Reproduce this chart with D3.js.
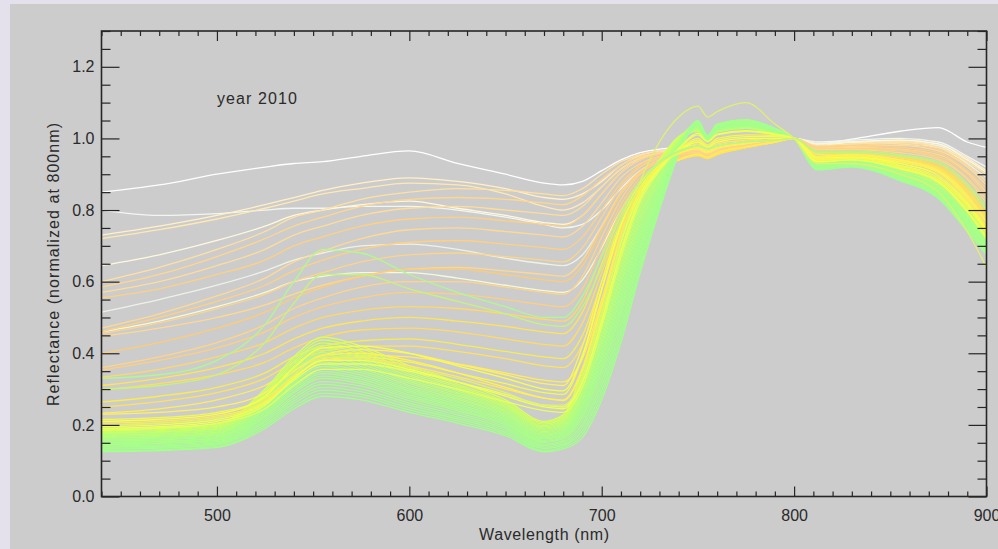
<!DOCTYPE html>
<html>
<head>
<meta charset="utf-8">
<script src="https://cdn.jsdelivr.net/npm/d3@7"></script>
<style>
  html, body { margin: 0; padding: 0; background: #e4e0ec; }
  svg { display: block; }
</style>
</head>
<body>
<svg id="chart" width="998" height="549"></svg>
<script>
// Wavelength grid (nm) shared by every spectrum
const wavelengths = [440, 470, 500, 525, 540, 555, 575, 600, 625, 650, 670, 680, 690, 700, 710, 720, 730, 740, 750, 755, 760, 775, 790, 800, 812, 830, 855, 875, 890, 900];

// Bright, weakly pigmented canopies
const paleSpectra = [
  [.85,.87,.90,.92,.93,.935,.95,.965,.93,.90,.875,.87, .88,.91,.94,.96,.97,.975, .98,.972,.98,.99,.995,1.0, .985,.998,1.02,1.03,.99,.975],
  [.80,.785,.79,.80,.805,.805,.81,.81,.80,.78,.76,.75, .76,.80,.86,.91,.935,.945, .955,.948,.958,.975,.99,1.0, .99,.995,1.0,.99,.95,.92],
  [.73,.755,.785,.815,.835,.855,.875,.89,.88,.86,.835,.83, .845,.88,.925,.952,.965,.97, .975,.968,.975,.985,.995,1.0, .985,.99,.995,.985,.945,.91],
  [.72,.745,.775,.805,.825,.845,.86,.875,.87,.845,.81,.80, .82,.865,.915,.945,.96,.97, .972,.965,.973,.985,.995,1.0, .98,.985,.99,.98,.935,.90],
  [.645,.675,.715,.755,.785,.80,.815,.825,.805,.785,.765,.76, .785,.845,.905,.94,.96,.97, .975,.967,.975,.985,.995,1.0, .98,.99,.995,.985,.94,.905],
  [.515,.55,.59,.63,.66,.68,.70,.705,.69,.665,.65,.645, .675,.755,.845,.905,.94,.955, .962,.955,.965,.98,.99,1.0, .985,.99,.99,.98,.93,.89],
  [.46,.49,.53,.57,.60,.615,.625,.625,.61,.59,.575,.57, .605,.695,.80,.88,.925,.945, .955,.948,.96,.978,.99,1.0, .985,.99,.985,.975,.925,.88]
];
const paleColors = ["#ffffff", "#f2f6f0", "#fff0c8", "#ffe8b4", "#fff8dc", "#eef2e6", "#f4f8dc"];

// Senescent / stressed canopies
const orangeSpectra = [
  [.60,.64,.69,.74,.78,.80,.83,.85,.86,.855,.845,.84, .86,.90,.935,.955,.965,.97, .975,.968,.975,.985,.995,1.0, .98,.985,.99,.975,.935,.90],
  [.585,.62,.67,.72,.755,.78,.81,.83,.835,.83,.82,.815, .84,.885,.925,.95,.96,.968, .972,.965,.973,.985,.995,1.0, .978,.98,.985,.97,.925,.88],
  [.57,.60,.645,.69,.73,.755,.785,.805,.81,.80,.79,.785, .81,.865,.915,.945,.958,.965, .97,.962,.97,.983,.994,1.0, .975,.978,.98,.965,.92,.87],
  [.555,.58,.62,.66,.70,.725,.755,.775,.78,.77,.76,.755, .785,.845,.905,.94,.955,.963, .968,.96,.97,.982,.993,1.0, .975,.98,.975,.96,.91,.86],
  [.47,.51,.56,.61,.655,.685,.72,.745,.75,.74,.73,.725, .755,.82,.89,.93,.95,.96, .965,.958,.967,.98,.992,1.0, .972,.975,.97,.955,.905,.85],
  [.46,.50,.545,.59,.63,.66,.69,.71,.715,.705,.695,.69, .725,.80,.875,.925,.948,.958, .963,.955,.965,.98,.992,1.0, .97,.972,.968,.95,.90,.84],
  [.455,.485,.525,.565,.60,.625,.655,.675,.68,.67,.66,.655, .695,.78,.865,.92,.945,.955, .962,.953,.963,.978,.991,1.0, .968,.97,.965,.945,.89,.83],
  [.447,.47,.50,.535,.565,.59,.615,.635,.64,.63,.62,.615, .66,.755,.85,.91,.94,.952, .96,.952,.962,.978,.991,1.0, .968,.968,.96,.94,.885,.82],
  [.40,.43,.47,.515,.555,.585,.615,.635,.635,.62,.605,.60, .645,.745,.845,.905,.938,.95, .958,.95,.96,.977,.99,1.0, .965,.965,.955,.935,.875,.81],
  [.36,.39,.43,.48,.525,.555,.585,.60,.60,.585,.57,.565, .615,.725,.83,.90,.935,.948, .956,.948,.958,.976,.99,1.0, .963,.962,.952,.93,.87,.80],
  [.353,.38,.415,.46,.50,.53,.555,.57,.565,.55,.535,.53, .58,.70,.815,.89,.93,.945, .955,.947,.957,.975,.99,1.0, .962,.96,.95,.928,.865,.80],
  [.333,.355,.39,.43,.47,.50,.52,.53,.525,.51,.495,.49, .545,.675,.80,.88,.925,.943, .953,.945,.956,.975,.99,1.0, .96,.958,.948,.925,.86,.79],
  [.31,.33,.36,.40,.44,.47,.49,.50,.49,.475,.46,.455, .515,.65,.785,.875,.922,.94, .952,.944,.955,.974,.99,1.0, .96,.958,.945,.92,.855,.785],
  [.297,.315,.34,.375,.415,.445,.465,.47,.46,.44,.425,.42, .485,.625,.77,.865,.918,.94, .952,.944,.955,.974,.989,1.0, .958,.955,.942,.918,.85,.78],
  [.264,.28,.305,.345,.39,.42,.435,.44,.425,.405,.39,.385, .45,.60,.755,.86,.915,.94, .953,.945,.956,.975,.99,1.0, .957,.953,.94,.915,.845,.775],
  [.25,.265,.29,.33,.375,.405,.42,.42,.405,.385,.365,.36, .425,.58,.745,.855,.912,.94, .955,.946,.958,.976,.99,1.0, .956,.952,.938,.912,.84,.77],
  [.233,.245,.27,.31,.355,.385,.395,.39,.37,.345,.325,.32, .385,.55,.725,.845,.91,.94, .957,.948,.96,.977,.99,1.0, .955,.95,.935,.908,.835,.765]
];
const orangeColors = ["#ffe0a0", "#ffd68c", "#ffdc98", "#ffd080", "#ffd994", "#ffd080", "#fcd48a", "#ffd890", "#ffcc74",
                      "#ffd486", "#ffcf7c", "#ffd868", "#ffe456", "#ffdc60", "#f8ec50", "#ffe25c", "#ffec5c"];

// Transitional canopies
const yellowSpectra = [
  [.23,.235,.25,.29,.35,.395,.41,.40,.37,.34,.315,.31, .42,.60,.77,.875,.93,.958, .97,.96,.972,.985,.995,1.0, .95,.955,.94,.91,.84,.765],
  [.215,.22,.235,.275,.335,.38,.39,.375,.345,.315,.29,.285, .39,.575,.755,.865,.925,.958, .975,.963,.976,.988,.996,1.0, .948,.952,.935,.905,.83,.755],
  [.205,.21,.225,.265,.33,.38,.385,.365,.335,.30,.275,.27, .36,.545,.735,.855,.922,.962, .985,.97,.985,.995,1.0,1.0, .945,.95,.93,.90,.825,.75],
  [.21,.215,.23,.28,.36,.415,.42,.40,.365,.33,.30,.295, .395,.58,.76,.87,.928,.965, .99,.975,.99,1.0,1.0,1.0, .945,.948,.93,.895,.82,.745],
  [.195,.20,.215,.26,.325,.37,.37,.35,.32,.285,.255,.25, .33,.51,.71,.845,.918,.965, .995,.978,.995,1.005,1.005,1.0, .94,.945,.925,.89,.815,.74],
  [.20,.205,.22,.265,.34,.395,.40,.38,.345,.305,.275,.268, .355,.535,.725,.855,.922,.968, 1.0,.982,1.0,1.01,1.008,1.0, .94,.945,.922,.885,.81,.735],
  [.185,.19,.205,.245,.31,.355,.355,.33,.30,.265,.24,.235, .305,.475,.67,.825,.91,.97, 1.01,.99,1.01,1.02,1.01,1.0, .935,.94,.918,.88,.80,.725],
  [.19,.195,.21,.255,.33,.38,.38,.355,.32,.28,.25,.245, .32,.49,.685,.835,.915,.972, 1.015,.992,1.012,1.022,1.012,1.0, .935,.94,.915,.878,.795,.72]
];
const yellowColors = ["#fff060", "#f4f850", "#ffe860", "#f8ff48", "#ecff58", "#fff24c", "#e4ff60", "#f2ff54"];

// Healthy green canopies
const greenSpectra = [
  [.190,.193,.202,.300,.390,.445,.420,.365,.320,.270,.210,.228,.355,.530,.710,.855,.940,1.005,1.025,.995,1.020,1.030,1.015,1.0,.935,.945,.915,.875,.805,.740],
  [.187,.190,.199,.295,.383,.437,.413,.359,.314,.265,.206,.223,.346,.517,.696,.844,.933,1.003,1.030,.998,1.025,1.036,1.018,1.0,.925,.935,.900,.858,.780,.715],
  [.184,.187,.196,.289,.376,.429,.405,.352,.309,.260,.202,.219,.336,.504,.682,.832,.926,1.000,1.022,.994,1.020,1.030,1.015,1.0,.938,.948,.920,.880,.810,.745],
  [.181,.184,.193,.285,.370,.422,.399,.347,.304,.256,.198,.215,.328,.494,.671,.823,.920,.998,1.040,1.002,1.032,1.045,1.022,1.0,.922,.930,.895,.850,.770,.705],
  [.178,.181,.190,.280,.364,.415,.393,.342,.299,.252,.195,.211,.321,.483,.660,.814,.915,.996,1.029,.997,1.023,1.033,1.017,1.0,.931,.941,.910,.868,.794,.729],
  [.176,.179,.188,.276,.358,.409,.387,.336,.295,.248,.191,.207,.313,.473,.648,.804,.909,.994,1.020,.992,1.018,1.028,1.012,1.0,.940,.950,.925,.885,.815,.750],
  [.173,.176,.185,.271,.352,.402,.381,.331,.290,.244,.188,.203,.306,.462,.637,.795,.904,.992,1.035,1.000,1.028,1.040,1.020,1.0,.926,.936,.902,.860,.782,.718],
  [.171,.174,.183,.267,.347,.396,.375,.326,.286,.240,.185,.200,.298,.452,.626,.786,.898,.990,1.031,.998,1.025,1.035,1.018,1.0,.929,.939,.906,.863,.787,.722],
  [.168,.171,.180,.263,.341,.389,.369,.321,.281,.236,.181,.196,.290,.442,.615,.777,.892,.988,1.045,1.006,1.036,1.050,1.026,1.0,.918,.926,.890,.845,.765,.700],
  [.165,.168,.177,.258,.335,.382,.363,.316,.276,.232,.178,.192,.283,.431,.604,.768,.887,.986,1.033,.999,1.026,1.036,1.019,1.0,.927,.937,.904,.860,.782,.717],
  [.163,.166,.175,.254,.329,.376,.357,.310,.272,.228,.174,.188,.275,.421,.592,.758,.881,.984,1.025,.995,1.020,1.030,1.015,1.0,.935,.945,.915,.872,.800,.735],
  [.160,.163,.172,.249,.323,.369,.351,.305,.267,.224,.171,.184,.268,.410,.581,.749,.876,.982,1.034,1.000,1.027,1.037,1.020,1.0,.926,.936,.901,.857,.777,.712],
  [.158,.161,.170,.245,.318,.363,.345,.300,.263,.220,.168,.181,.260,.400,.570,.740,.870,.980,1.042,1.004,1.034,1.046,1.025,1.0,.920,.928,.892,.846,.762,.698],
  [.155,.158,.167,.241,.312,.356,.339,.295,.258,.216,.164,.177,.252,.390,.559,.731,.864,.978,1.036,1.000,1.028,1.038,1.020,1.0,.924,.934,.899,.853,.773,.708],
  [.152,.155,.164,.236,.306,.349,.333,.290,.253,.212,.161,.173,.245,.379,.548,.722,.859,.976,1.030,.997,1.024,1.034,1.018,1.0,.930,.940,.908,.864,.788,.722],
  [.150,.153,.162,.232,.300,.343,.327,.284,.249,.208,.157,.169,.237,.369,.536,.712,.853,.974,1.037,1.001,1.029,1.039,1.021,1.0,.923,.933,.896,.850,.768,.703],
  [.147,.150,.159,.227,.294,.336,.321,.279,.244,.204,.154,.165,.230,.358,.525,.703,.848,.972,1.048,1.008,1.040,1.052,1.028,1.0,.915,.922,.885,.838,.752,.688],
  [.145,.148,.157,.223,.289,.330,.315,.274,.240,.200,.151,.162,.222,.348,.514,.694,.842,.970,1.039,1.002,1.031,1.041,1.022,1.0,.921,.931,.894,.847,.763,.698],
  [.141,.144,.153,.218,.281,.321,.308,.268,.234,.195,.146,.157,.213,.335,.500,.683,.835,.968,1.032,.998,1.025,1.035,1.019,1.0,.928,.938,.902,.856,.775,.708],
  [.138,.141,.150,.212,.274,.313,.300,.261,.228,.190,.142,.152,.203,.322,.486,.671,.828,.965,1.041,1.003,1.032,1.042,1.023,1.0,.919,.929,.891,.843,.757,.692],
  [.135,.138,.147,.207,.267,.305,.293,.255,.222,.185,.138,.147,.194,.309,.472,.660,.821,.963,1.050,1.008,1.040,1.052,1.028,1.0,.912,.920,.882,.832,.740,.675],
  [.132,.135,.144,.201,.260,.297,.285,.248,.217,.180,.134,.143,.184,.296,.458,.648,.814,.960,1.043,1.004,1.034,1.044,1.024,1.0,.917,.927,.888,.839,.751,.686],
  [.128,.131,.140,.196,.252,.288,.278,.242,.211,.175,.129,.138,.175,.283,.444,.637,.807,.958,1.038,1.001,1.030,1.040,1.022,1.0,.922,.932,.895,.848,.762,.697],
  [.125,.128,.137,.190,.245,.280,.270,.235,.205,.170,.125,.133,.165,.270,.430,.625,.800,.955,1.045,1.005,1.035,1.045,1.025,1.0,.915,.925,.885,.835,.745,.680]
];
const greenColors = ["#d8ff5c", "#ccff64", "#d0ff60", "#c4ff6c", "#c8ff68", "#c0ff70", "#b8ff78", "#b4ff7c",
                     "#bcff74", "#b0ff80", "#b6ff7a", "#acff84", "#aaff86", "#aeff84", "#a8ff88", "#aaff86",
                     "#a6ff8a", "#acff84", "#a4ff8c", "#a8ff88", "#a2ff8e", "#a6ff8a", "#a2ff8c", "#a4ff8e"];

// Unusual spectra: strong green peak, and one with a high NIR shoulder
const oddSpectra = [
  [.33,.34,.38,.48,.60,.69,.68,.62,.57,.53,.50,.50, .56,.67,.79,.88,.935,.965, .98,.972,.98,.99,.995,1.0, .965,.965,.955,.935,.875,.81],
  [.30,.31,.34,.43,.54,.62,.62,.58,.545,.51,.48,.475, .53,.64,.77,.87,.93,.962, .978,.97,.978,.99,.995,1.0, .96,.96,.95,.93,.865,.80],
  [.20,.205,.22,.27,.34,.39,.385,.36,.33,.29,.255,.255, .33,.51,.72,.88,.99,1.06, 1.09,1.06,1.075,1.10,1.04,1.0, .93,.93,.90,.85,.74,.64]
];
const oddColors = ["#b0f890", "#c4f47c", "#e0f070"];

const xMajorTicks = [500, 600, 700, 800, 900];
const yMajorTicks = [0, 0.2, 0.4, 0.6, 0.8, 1.0, 1.2];

// ---- layout ----
const W = 998, H = 549;
const plot = { left: 101.5, top: 31, right: 986.5, bottom: 496.5 };
const ink = "#262626";
const font = "'Liberation Sans', Arial, sans-serif";

const svg = d3.select("#chart");
svg.append("rect").attr("width", W).attr("height", H).attr("fill", "#e4e0ec");
svg.append("rect").attr("x", 10).attr("y", 4).attr("width", W - 10).attr("height", H - 4).attr("fill", "#cccccc");

const x = d3.scaleLinear().domain([440, 900]).range([plot.left, plot.right]);
const y = d3.scaleLinear().domain([0, 1.3]).range([plot.bottom, plot.top]);

svg.append("clipPath").attr("id", "plotclip")
  .append("rect").attr("x", plot.left).attr("y", plot.top)
  .attr("width", plot.right - plot.left).attr("height", plot.bottom - plot.top);

const line = d3.line()
  .x((d, i) => x(wavelengths[i]))
  .y(d => y(d))
  .curve(d3.curveMonotoneX);

const spectraLayer = svg.append("g").attr("clip-path", "url(#plotclip)");
function drawGroup(rows, colors, cls) {
  spectraLayer.append("g").attr("class", cls)
    .selectAll("path").data(rows).join("path")
    .attr("d", line)
    .attr("fill", "none")
    .attr("stroke", (d, i) => colors[i % colors.length])
    .attr("stroke-width", 1.3)
    .attr("stroke-linejoin", "round");
}
drawGroup(paleSpectra, paleColors, "pale");
drawGroup(orangeSpectra, orangeColors, "orange");
drawGroup(greenSpectra, greenColors, "green");
drawGroup(yellowSpectra, yellowColors, "yellow");
drawGroup(oddSpectra, oddColors, "odd");

// ---- axes (ticks point inward on all four sides) ----
const xMinor = d3.range(440, 901, 10).filter(v => !xMajorTicks.includes(v));
const yMinor = d3.range(0, 1.3001, 0.05).map(v => +v.toFixed(2))
  .filter(v => !yMajorTicks.some(t => Math.abs(t - v) < 1e-6));

function finish(g) {
  g.select(".domain").remove();
  g.selectAll("line").attr("stroke", ink).attr("stroke-width", 1.2);
  g.selectAll("text").attr("fill", "#2a2a2a").attr("font-family", font).attr("font-size", 16);
}

svg.append("g").attr("transform", `translate(0,${plot.bottom})`)
  .call(d3.axisBottom(x).tickValues(xMajorTicks).tickSize(-10).tickPadding(13.6).tickFormat(d3.format("d")))
  .call(finish);
svg.append("g").attr("transform", `translate(0,${plot.bottom})`)
  .call(d3.axisBottom(x).tickValues(xMinor).tickSize(-5).tickFormat(""))
  .call(finish);
svg.append("g").attr("transform", `translate(0,${plot.top})`)
  .call(d3.axisTop(x).tickValues(xMajorTicks).tickSize(-10).tickFormat(""))
  .call(finish);
svg.append("g").attr("transform", `translate(0,${plot.top})`)
  .call(d3.axisTop(x).tickValues(xMinor).tickSize(-5).tickFormat(""))
  .call(finish);

svg.append("g").attr("transform", `translate(${plot.left},0)`)
  .call(d3.axisLeft(y).tickValues(yMajorTicks).tickSize(-18).tickPadding(7).tickFormat(d3.format(".1f")))
  .call(finish);
svg.append("g").attr("transform", `translate(${plot.left},0)`)
  .call(d3.axisLeft(y).tickValues(yMinor).tickSize(-9).tickFormat(""))
  .call(finish);
svg.append("g").attr("transform", `translate(${plot.right},0)`)
  .call(d3.axisRight(y).tickValues(yMajorTicks).tickSize(-18).tickFormat(""))
  .call(finish);
svg.append("g").attr("transform", `translate(${plot.right},0)`)
  .call(d3.axisRight(y).tickValues(yMinor).tickSize(-9).tickFormat(""))
  .call(finish);

// plot frame
svg.append("rect")
  .attr("x", plot.left).attr("y", plot.top)
  .attr("width", plot.right - plot.left).attr("height", plot.bottom - plot.top)
  .attr("fill", "none").attr("stroke", ink).attr("stroke-width", 1.6);

// ---- titles ----
svg.append("text")
  .attr("x", (plot.left + plot.right) / 2).attr("y", 540)
  .attr("text-anchor", "middle")
  .attr("font-family", font).attr("font-size", 16).attr("fill", "#2a2a2a")
  .attr("textLength", 130).attr("lengthAdjust", "spacing")
  .text("Wavelength (nm)");

svg.append("text")
  .attr("transform", "translate(59,264.5) rotate(-90)")
  .attr("text-anchor", "middle")
  .attr("font-family", font).attr("font-size", 16).attr("fill", "#2a2a2a")
  .attr("textLength", 283).attr("lengthAdjust", "spacing")
  .text("Reflectance (normalized at 800nm)");

svg.append("text")
  .attr("x", 217).attr("y", 104)
  .attr("font-family", font).attr("font-size", 16).attr("fill", "#2a2a2a")
  .attr("textLength", 80).attr("lengthAdjust", "spacing")
  .text("year 2010");
</script>
</body>
</html>
